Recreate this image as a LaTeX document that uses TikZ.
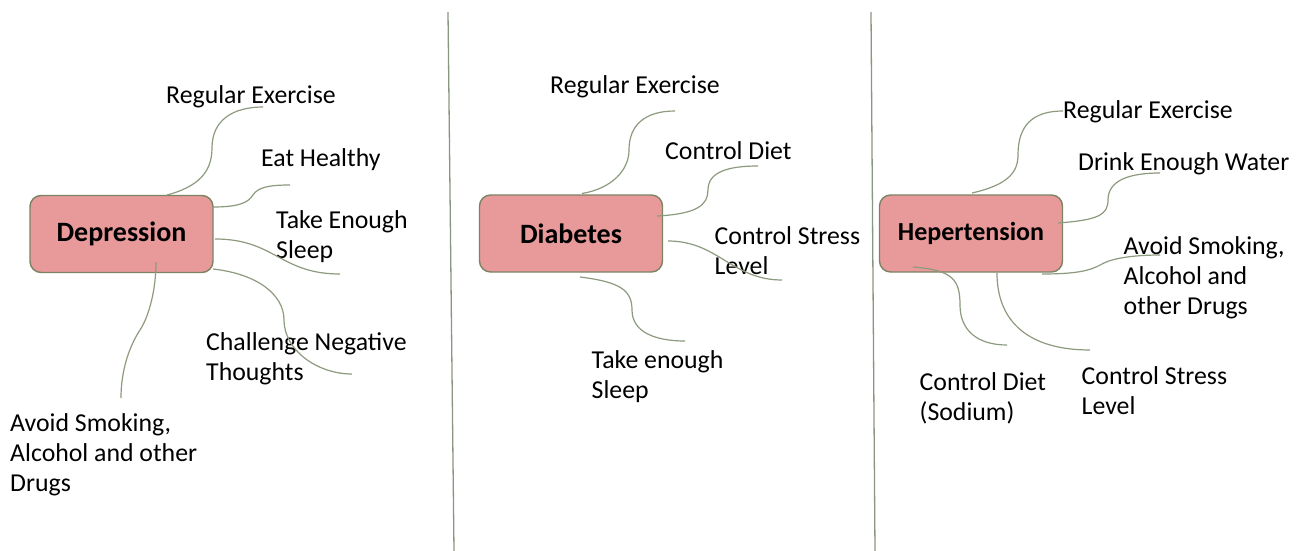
\documentclass[tikz,border=0pt]{standalone}
\usepackage{fontspec}
\setmainfont{Carlito}
\definecolor{boxfill}{HTML}{E8999A}
\definecolor{boxedge}{HTML}{7B8363}
\definecolor{twig}{HTML}{8C9A7E}
\definecolor{rule}{HTML}{8A9682}
\begin{document}
\begin{tikzpicture}[x=1pt,y=-1pt,
	topic/.style={draw=boxedge,fill=boxfill,line width=1.4pt,rounded corners=11pt,minimum width=183pt,minimum height=77pt,inner sep=0,font=\fontsize{28}{30}\selectfont\bfseries},
	txt/.style={inner sep=0,anchor=base west,align=left,font=\fontsize{25.8}{30}\selectfont},
	twigline/.style={draw=twig,line width=1.2pt},
	divider/.style={draw=rule,line width=1.3pt}]
	\useasboundingbox (0,0) rectangle (1299,551);
	% separators
	\coordinate (s1a) at (448,12);
	\coordinate (s1b) at (454,551);
	\coordinate (s2a) at (871,12);
	\coordinate (s2b) at (875,551);
	\draw[divider] (s1a) -- (s1b);
	\draw[divider] (s2a) -- (s2b);

	% Depression (multi-line texts are placed by their last line)
	\node[topic] (dep) at (121.5,234) {Depression};
	\node[txt] (depRE) at (166,103) {Regular Exercise};
	\node[txt] (depEH) at (261,166.5) {Eat Healthy};
	\node[txt] (depSL) at (276,258.5) {Take Enough\\Sleep};
	\node[txt] (depCN) at (206,380) {Challenge Negative\\Thoughts};
	\node[txt] (depAS) at (10,491.5) {Avoid Smoking,\\Alcohol and other\\Drugs};
	\coordinate (dRE) at (263,107);
	\coordinate (dEH) at (290,185);
	\coordinate (dSL) at (340,274);
	\coordinate (dCN) at (352,374);
	\coordinate (dAS) at (121,398);
	\draw[twigline] ([shift={(45.5,-39)}]dep.center) .. controls +(30,-8) and +(0,25) .. (212,148) .. controls +(0,-28) and +(-30,0) .. (dRE);
	\draw[twigline] ([shift={(91.5,-27)}]dep.center) .. controls +(25,0) and +(-5,8) .. (253,195) .. controls +(5,-8) and +(-20,0) .. (dEH);
	\draw[twigline] ([shift={(93.5,5)}]dep.center) .. controls +(60,0) and +(-60,0) .. (dSL);
	\draw[twigline] ([shift={(91.5,35)}]dep.center) .. controls +(45,5) and +(0,-25) .. (284,320) .. controls +(0,30) and +(-35,0) .. (dCN);
	\draw[twigline] ([shift={(34.5,28)}]dep.center) .. controls +(0,30) and +(8,-12) .. (140,330) .. controls +(-6,9) and +(0,-35) .. (dAS);

	% Diabetes
	\node[topic] (dia) at (571,233.5) {Diabetes};
	\node[txt] (diaRE) at (550,93.5) {Regular Exercise};
	\node[txt] (diaCD) at (665,159.5) {Control Diet};
	\node[txt] (diaCS) at (714.5,274.5) {Control Stress\\Level};
	\node[txt] (diaTS) at (591.5,398.5) {Take enough\\Sleep};
	\coordinate (bRE) at (675,111);
	\coordinate (bCD) at (758,166);
	\coordinate (bCS) at (782,280);
	\coordinate (bTS) at (685,341);
	\draw[twigline] ([shift={(11,-40)}]dia.center) .. controls +(30,-5) and +(0,20) .. (629,150) .. controls +(0,-25) and +(-30,0) .. (bRE);
	\draw[twigline] ([shift={(86,-17.5)}]dia.center) .. controls +(40,-2) and +(0,15) .. (708,190) .. controls +(0,-18) and +(-30,0) .. (bCD);
	\draw[twigline] ([shift={(97,7.5)}]dia.center) .. controls +(50,0) and +(-50,0) .. (bCS);
	\draw[twigline] ([shift={(9,43.5)}]dia.center) .. controls +(40,5) and +(0,-20) .. (632,310) .. controls +(0,22) and +(-30,0) .. (bTS);

	% Hepertension
	\node[topic,font=\fontsize{26}{30}\selectfont\bfseries] (hep) at (971,233.5) {Hepertension};
	\node[txt] (hepRE) at (1063,118.5) {Regular Exercise};
	\node[txt] (hepDW) at (1078,170.5) {Drink Enough Water};
	\node[txt] (hepAS) at (1123.5,314) {Avoid Smoking,\\Alcohol and\\other Drugs};
	\node[txt] (hepCD) at (919.5,420.5) {Control Diet\\(Sodium)};
	\node[txt] (hepCS) at (1081.5,414.5) {Control Stress\\Level};
	\coordinate (hRE) at (1063,111);
	\coordinate (hDW) at (1160,173);
	\coordinate (hAS) at (1160,255);
	\coordinate (hCD) at (1007,345);
	\coordinate (hCS) at (1090,350);
	\draw[twigline] ([shift={(1,-40.5)}]hep.center) .. controls +(35,-8) and +(0,18) .. (1018,155) .. controls +(0,-30) and +(-30,0) .. (hRE);
	\draw[twigline] ([shift={(87,-10.5)}]hep.center) .. controls +(40,-3) and +(0,15) .. (1108,200) .. controls +(0,-20) and +(-30,0) .. (hDW);
	\draw[twigline] ([shift={(71,40.5)}]hep.center) .. controls +(45,0) and +(-10,5) .. (1104,263) .. controls +(10,-5) and +(-25,0) .. (hAS);
	\draw[twigline] ([shift={(-58,33.5)}]hep.center) .. controls +(40,3) and +(0,-25) .. (960,305) .. controls +(0,25) and +(-30,0) .. (hCD);
	\draw[twigline] ([shift={(26,39.5)}]hep.center) .. controls +(0,50) and +(-60,0) .. (hCS);
\end{tikzpicture}
\end{document}
